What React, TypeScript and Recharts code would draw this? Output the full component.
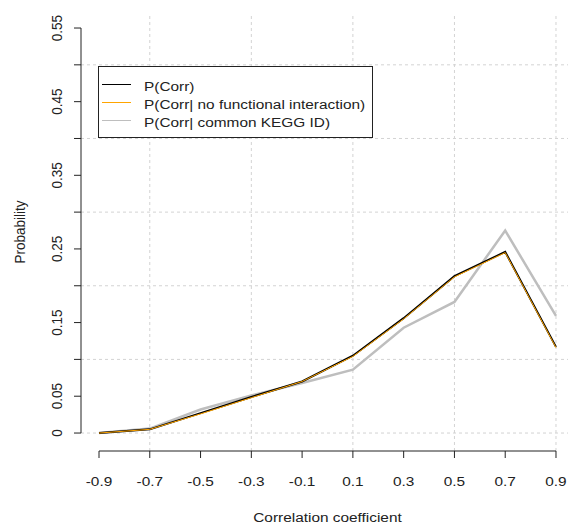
import { Line, LineChart, ReferenceLine, XAxis, YAxis } from 'recharts';

// correlation bins and probabilities
const corrBins = [-0.9, -0.7, -0.5, -0.3, -0.1, 0.1, 0.3, 0.5, 0.7, 0.9];
const pCorr = [0.0, 0.005, 0.027, 0.049, 0.07, 0.105, 0.156, 0.213, 0.246, 0.117];
const pNoInteraction = [0.0, 0.005, 0.026, 0.048, 0.07, 0.104, 0.155, 0.212, 0.245, 0.116];
const pKegg = [0.0, 0.006, 0.032, 0.051, 0.068, 0.086, 0.143, 0.178, 0.275, 0.159];

const seriesNames = ['P(Corr)', 'P(Corr| no functional interaction)', 'P(Corr| common KEGG ID)'];
const seriesColors = ['#000000', '#ffa500', '#bebebe'];

const xTicks = [-0.9, -0.7, -0.5, -0.3, -0.1, 0.1, 0.3, 0.5, 0.7, 0.9];
const yTicks = [0, 0.05, 0.1, 0.15, 0.2, 0.25, 0.3, 0.35, 0.4, 0.45, 0.5, 0.55];
const yLabeled = [0, 0.05, 0.15, 0.25, 0.35, 0.45, 0.55];
const xGrid = [-0.7, -0.3, 0.1, 0.5, 0.9];
const yGrid = [0, 0.1, 0.2, 0.3, 0.4, 0.5];

const X_MIN = -0.9709;
const X_MAX = 0.9473;
const Y_MIN = -0.0244;
const Y_MAX = 0.5704;

const FONT = '"Liberation Sans", Arial, sans-serif';
const FS = 13.5;
const STRETCH = 1.14; // the original png is a bit wider than tall
const INK = '#222';
const GRID = '#d3d3d3';

const data = corrBins.map((c, i) => ({
  c,
  corr: pCorr[i],
  noInt: pNoInteraction[i],
  kegg: pKegg[i],
}));

function Txt({ x, y, rotate = 0, anchor = 'middle', children }: any) {
  return (
    <text
      x={0}
      y={0}
      transform={`translate(${x}, ${y}) scale(${STRETCH}, 1) rotate(${rotate})`}
      textAnchor={anchor}
      fill={INK}
      fontSize={FS}
      fontFamily={FONT}
    >
      {children}
    </text>
  );
}

function XTick(props: any) {
  const { x, y, payload } = props;
  return <Txt x={x} y={y + 9.5}>{payload.value}</Txt>;
}

function YTick(props: any) {
  const { y, payload } = props;
  if (!yLabeled.includes(payload.value)) return <g />;
  return <Txt x={62} y={y} rotate={-90}>{payload.value}</Txt>;
}

function YTitle(props: any) {
  const vb = props.viewBox;
  return <Txt x={25} y={vb.y + vb.height / 2} rotate={-90}>Probability</Txt>;
}

function XTitle(props: any) {
  const vb = props.viewBox;
  return <Txt x={vb.x + vb.width / 2 + 3} y={522}>Correlation coefficient</Txt>;
}

export default function App() {
  return (
    <div style={{ position: 'absolute', left: 0, top: 0, width: 568, height: 525, background: '#fff' }}>
      <LineChart width={568} height={525} data={data} margin={{ top: 13, right: 0, left: 0, bottom: 0 }}>
        <XAxis
          dataKey="c"
          type="number"
          domain={[X_MIN, X_MAX]}
          allowDataOverflow
          ticks={xTicks}
          tickSize={7}
          tickMargin={18}
          height={74}
          axisLine={false}
          tickLine={{ stroke: INK }}
          tick={<XTick />}
          label={<XTitle />}
        />
        <YAxis
          type="number"
          domain={[Y_MIN, Y_MAX]}
          allowDataOverflow
          ticks={yTicks}
          tickSize={7}
          tickMargin={12}
          width={81}
          axisLine={false}
          tickLine={{ stroke: INK }}
          tick={<YTick />}
          label={<YTitle />}
        />
        {xGrid.map((v) => (
          <ReferenceLine key={`gx${v}`} x={v} stroke={GRID} strokeDasharray="3 3" ifOverflow="visible" />
        ))}
        {yGrid.map((v) => (
          <ReferenceLine key={`gy${v}`} y={v} stroke={GRID} strokeDasharray="3 3" ifOverflow="visible" />
        ))}
        <ReferenceLine
          segment={[{ x: X_MIN, y: 0 }, { x: X_MIN, y: 0.55 }]}
          stroke={INK}
          ifOverflow="visible"
        />
        <ReferenceLine
          segment={[{ x: -0.9, y: Y_MIN }, { x: 0.9, y: Y_MIN }]}
          stroke={INK}
          ifOverflow="visible"
        />
        <Line dataKey="kegg" stroke={seriesColors[2]} strokeWidth={2.5} dot={false} isAnimationActive={false} />
        <Line dataKey="corr" stroke={seriesColors[0]} strokeWidth={2} dot={false} isAnimationActive={false} />
        <Line dataKey="noInt" stroke={seriesColors[1]} strokeWidth={1} dot={false} isAnimationActive={false} />
      </LineChart>
      <svg width={568} height={525} style={{ position: 'absolute', left: 0, top: 0, pointerEvents: 'none' }}>
        <rect x={98.5} y={66.5} width={274} height={71} fill="#fff" stroke={INK} />
        {seriesNames.map((name, i) => (
          <g key={name}>
            <line x1={102} x2={131} y1={84.5 + i * 18} y2={84.5 + i * 18} stroke={seriesColors[i]} />
            <Txt x={144} y={91 + i * 18} anchor="start">{name}</Txt>
          </g>
        ))}
      </svg>
    </div>
  );
}
